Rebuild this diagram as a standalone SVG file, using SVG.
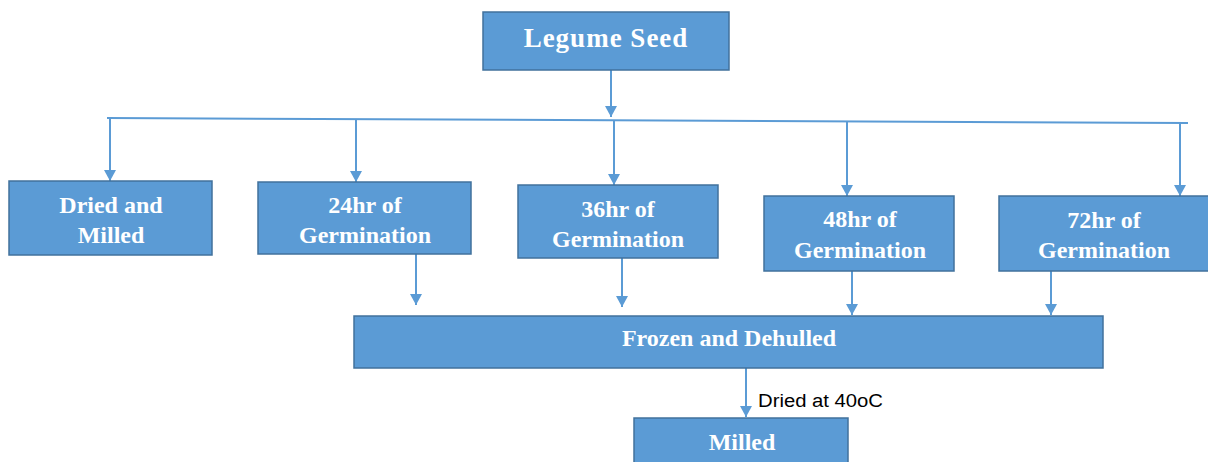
<svg xmlns="http://www.w3.org/2000/svg" width="1208" height="462" viewBox="0 0 1208 462">
<style>
.box{fill:#5B9BD5;stroke:#41719C;stroke-width:1.5}
.t{font-family:"Liberation Serif","Times New Roman",serif;font-weight:bold;font-size:24px;fill:#FFFFFF;text-anchor:middle}
.c{stroke:#5B9BD5;stroke-width:2;fill:none}
.lbl{font-family:"Liberation Sans",Arial,sans-serif;font-size:18px;fill:#000000}
</style>
<defs>
<marker id="arr" markerUnits="userSpaceOnUse" markerWidth="12" markerHeight="12" viewBox="0 0 12 12" refX="11" refY="6" orient="auto">
<path d="M0,0 L11,6 L0,12 Z" fill="#5B9BD5"/>
</marker>
</defs>
<g id="connectors">
<line class="c" x1="107" y1="118" x2="1188" y2="123"/>
<line class="c" x1="611" y1="70" x2="611" y2="117" marker-end="url(#arr)"/>
<line class="c" x1="110" y1="118" x2="110" y2="181" marker-end="url(#arr)"/>
<line class="c" x1="356" y1="119" x2="356" y2="182" marker-end="url(#arr)"/>
<line class="c" x1="614" y1="120" x2="614" y2="185" marker-end="url(#arr)"/>
<line class="c" x1="847" y1="121" x2="847" y2="196" marker-end="url(#arr)"/>
<line class="c" x1="1180" y1="123" x2="1180" y2="196" marker-end="url(#arr)"/>
<line class="c" x1="416" y1="254" x2="416" y2="305" marker-end="url(#arr)"/>
<line class="c" x1="622" y1="258" x2="622" y2="307" marker-end="url(#arr)"/>
<line class="c" x1="852" y1="271" x2="852" y2="315" marker-end="url(#arr)"/>
<line class="c" x1="1051" y1="270" x2="1051" y2="315" marker-end="url(#arr)"/>
<line class="c" x1="746" y1="368" x2="746" y2="417" marker-end="url(#arr)"/>
<text class="lbl" x="758" y="407" textLength="125" lengthAdjust="spacingAndGlyphs">Dried at 40oC</text>
</g>
<g id="legume-seed">
<rect class="box" x="483" y="12" width="246" height="58"/>
<text class="t" x="606" y="47" style="font-size:27px;letter-spacing:1px">Legume Seed</text>
</g>
<g id="dried-milled">
<rect class="box" x="9" y="181" width="203" height="74"/>
<text class="t" x="111" y="213">Dried and</text>
<text class="t" x="111" y="243">Milled</text>
</g>
<g id="g24">
<rect class="box" x="258" y="182" width="213" height="72"/>
<text class="t" x="365" y="213">24hr of</text>
<text class="t" x="365" y="243">Germination</text>
</g>
<g id="g36">
<rect class="box" x="518" y="185" width="200" height="73"/>
<text class="t" x="618" y="217">36hr of</text>
<text class="t" x="618" y="247">Germination</text>
</g>
<g id="g48">
<rect class="box" x="764" y="196" width="190" height="75"/>
<text class="t" x="860" y="227">48hr of</text>
<text class="t" x="860" y="258">Germination</text>
</g>
<g id="g72">
<rect class="box" x="999" y="196" width="215" height="75"/>
<text class="t" x="1104" y="228">72hr of</text>
<text class="t" x="1104" y="258">Germination</text>
</g>
<g id="frozen-dehulled">
<rect class="box" x="354" y="316" width="749" height="52"/>
<text class="t" x="729" y="346">Frozen and Dehulled</text>
</g>
<g id="milled">
<rect class="box" x="634" y="418" width="214" height="60"/>
<text class="t" x="742" y="450">Milled</text>
</g>
</svg>
